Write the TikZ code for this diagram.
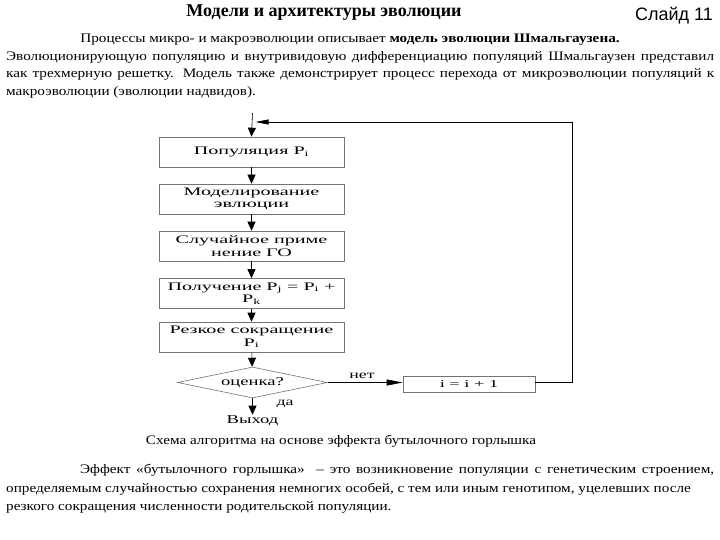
\documentclass[tikz,border=0pt]{standalone}
\usepackage{fontspec}
\setmainfont{Liberation Serif}
\newfontfamily\slidesans{Liberation Sans}
\newfontfamily\parafont[FakeStretch=1.17]{Liberation Serif}
\newfontfamily\boxfont[FakeStretch=1.75]{Liberation Serif}
\newfontfamily\smallfont[FakeStretch=1.55]{Liberation Serif}
\usetikzlibrary{shapes.geometric,arrows.meta}
\tikzset{
  fbox/.style={draw=black!55, line width=0.6pt, fill=white, minimum width=185pt, minimum height=30pt, inner sep=1pt, align=center, font=\boxfont\fontsize{11.5}{12.5}\selectfont},
  arr/.style={draw=black, line width=0.6pt, -{Triangle[length=9pt,width=8pt]}},
  txt/.style={inner sep=0pt, font=\parafont\fontsize{13}{15}\selectfont},
}
\begin{document}
\begin{tikzpicture}[x=1pt,y=-1pt]
\useasboundingbox (0,0) rectangle (720,540);
\fill[white] (0,0) rectangle (720,540);
% header
\node[inner sep=0pt, font=\fontsize{18}{20}\selectfont\bfseries] (title) at (324,13) {Модели и архитектуры эволюции};
\node[inner sep=0pt, font=\slidesans\fontsize{18}{20}\selectfont] (slide) at (674,16) {Слайд 11};
% top paragraph
\node[txt] (p1) at (350,40) {Процессы микро- и макроэволюции описывает \textbf{модель эволюции Шмальгаузена.}};
\node[txt, anchor=west] (p2) at (6,57) {\hbox to 708pt{Эволюционирующую популяцию и внутривидовую дифференциацию популяций Шмальгаузен представил}};
\node[txt, anchor=west] (p3) at (6,74) {\hbox to 708pt{как трехмерную решетку. Модель также демонстрирует процесс перехода от микроэволюции популяций к}};
\node[txt, anchor=west] (p4) at (6,92) {макроэволюции (эволюции надвидов).};
% flowchart
\node[fbox] (b1) at (251.5,152) {Популяция P\textsubscript{i}};
\node[fbox] (b2) at (251.5,199) {Моделирование\\эвлюции};
\node[fbox] (b3) at (251.5,246) {Случайное приме\\нение ГО};
\node[fbox] (b4) at (251.5,293.5) {Получение P\textsubscript{j} = P\textsubscript{i} +\\P\textsubscript{k}};
\node[fbox] (b5) at (251.5,337) {Резкое сокращение\\P\textsubscript{i}};
\node[draw=black!55, line width=0.6pt, shape=diamond, aspect=4.9, minimum width=150pt, minimum height=31pt, inner sep=0pt, font=\smallfont\fontsize{12}{13}\selectfont] (d) at (252.5,382.5) {оценка?};
\node[draw=black!55, line width=0.6pt, minimum width=132pt, minimum height=16pt, inner sep=0pt, font=\boxfont\fontsize{10.5}{11}\selectfont] (ib) at (469,384) {i = i + 1};
\node[inner sep=1pt, font=\smallfont\fontsize{12}{13}\selectfont] (out) at (252.5,421) {Выход};
\coordinate (top) at (252.5,113);
\coordinate (j) at (255.5,122);
\draw[arr] (top) -- (b1.north);
\draw[arr] (b1) -- (b2);
\draw[arr] (b2) -- (b3);
\draw[arr] (b3) -- (b4);
\draw[arr] (b4) -- (b5);
\draw[arr] (b5) -- (d);
\draw[arr, -{Triangle[length=16pt,width=6pt]}] (d.east) -- (ib.west |- d.east);
\node[inner sep=0pt, font=\smallfont\fontsize{11.5}{12}\selectfont] (no) at (362,376) {нет};
\draw[arr] (d.south) -- (out.north);
\node[inner sep=0pt, font=\smallfont\fontsize{11.5}{12}\selectfont] (yes) at (285,404) {да};
\draw[line width=0.6pt, -{Triangle[length=13pt,width=5pt]}] (ib.east |- d.east) -- ++(37,0) |- (j);
% caption
\node[txt] (cap) at (341,441) {Схема алгоритма на основе эффекта бутылочного горлышка};
% bottom paragraph
\node[txt, anchor=west] (q1) at (80,470) {\hbox to 634pt{Эффект «бутылочного горлышка» \ – это возникновение популяции с генетическим строением,}};
\node[txt, anchor=west] (q2) at (6,489) {определяемым случайностью сохранения немногих особей, с тем или иным генотипом, уцелевших после};
\node[txt, anchor=west] (q3) at (6,507) {резкого сокращения численности родительской популяции.};
\end{tikzpicture}
\end{document}
